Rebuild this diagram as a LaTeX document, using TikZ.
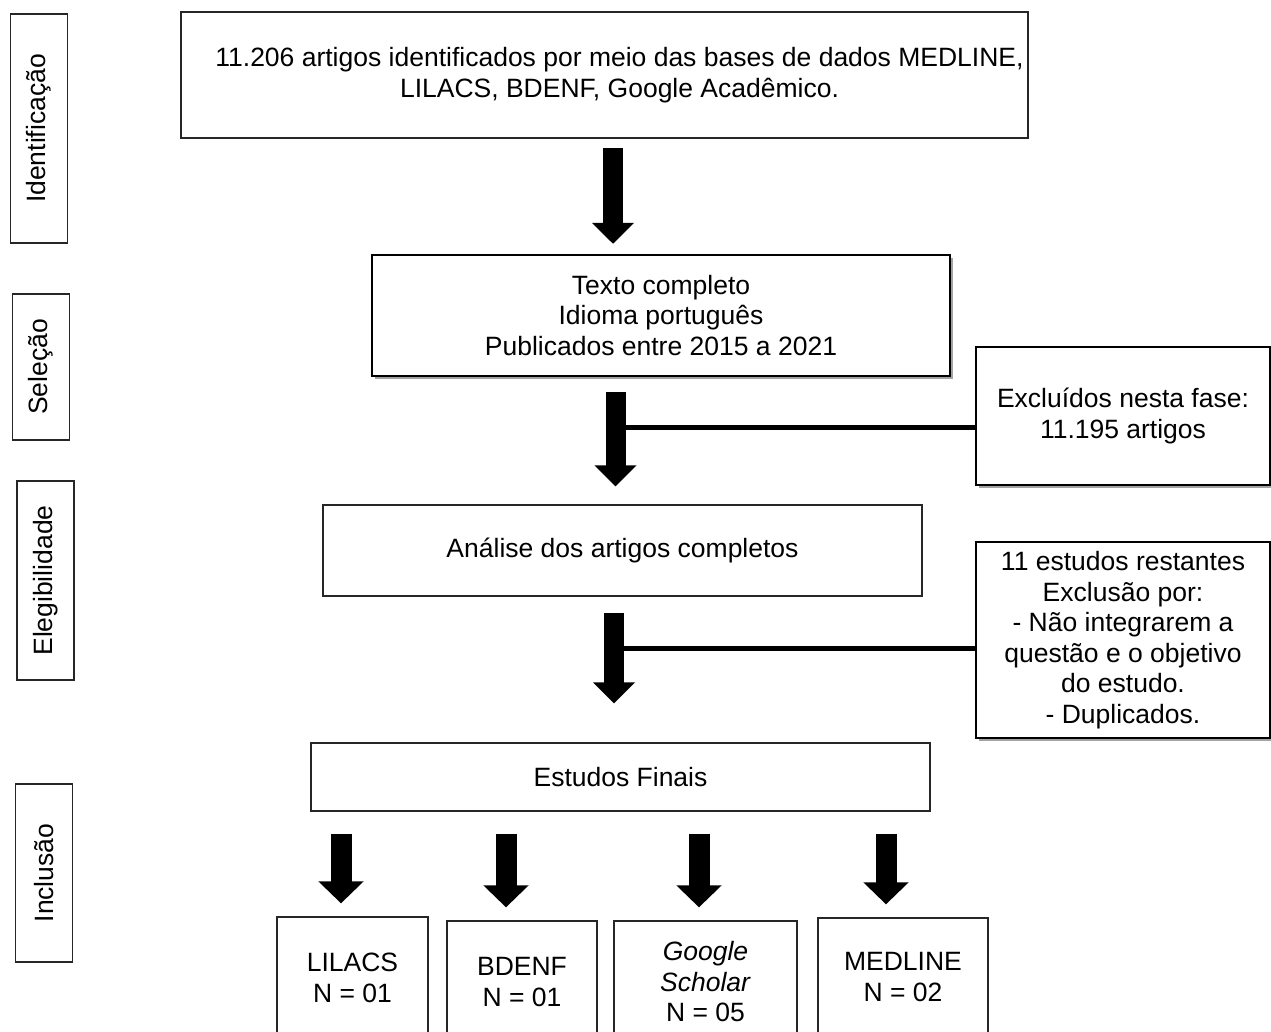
\documentclass[tikz,border=0pt]{standalone}
\usepackage{fontspec}
\setmainfont{Liberation Sans}
\usetikzlibrary{arrows.meta, positioning, shadows, calc}
\tikzset{%
	box/.style={draw=black!85, rectangle, line width=1.3pt, inner sep=0mm, align=center},
	shbox/.style={box, draw=black, line width=2.4pt, fill=white,%
		drop shadow={shadow xshift=3pt, shadow yshift=-3pt, fill=black!60, opacity=0.6}},
	phase/.style={box, rotate=90, minimum height=57pt},
	bigarrow/.style={line width=20pt, -{Triangle[width=41pt, length=21pt]}},
	smallarrow/.style={line width=21pt, -{Triangle[width=44pt, length=22pt]}},
	joinline/.style={line width=5pt}
}
\begin{document}
\begin{tikzpicture}[x=1pt, y=-1pt, font=\fontsize{26.5pt}{30.5pt}\selectfont]
	\useasboundingbox (0,0) rectangle (1271,1032);

	% phases
	\node[phase, minimum width=229pt] (pident) at (39,128.5) {Identificação};
	\node[phase, minimum width=146pt] (psel) at (41,367) {Seleção};
	\node[phase, minimum width=199pt] (pelig) at (45.5,580.5) {Elegibilidade};
	\node[phase, minimum width=178pt] (pincl) at (44,873) {Inclusão};

	% main column
	\node[box, minimum width=847pt, minimum height=126pt] (ident) at (604.5,75)
		{\hspace*{30pt}11.206 artigos identificados por meio das bases de dados MEDLINE,\\
		\hspace*{30pt}LILACS, BDENF, Google Acadêmico.};
	\node[shbox, minimum width=578pt, minimum height=121pt] (texto) at (661,315.5)
		{Texto completo\\Idioma português\\Publicados entre 2015 a 2021};
	\node[box, minimum width=599pt, minimum height=91pt] (analise) at (622.5,550.5)
		{Análise dos artigos completos};
	\node[box, minimum width=619pt, minimum height=68pt] (finais) at (620.5,777)
		{Estudos Finais};

	% exclusions
	\node[shbox, minimum width=294pt, minimum height=138pt] (excl) at (1123,416)
		{Excluídos nesta fase:\\11.195 artigos};
	\node[shbox, minimum width=294pt, minimum height=196pt] (rest) at (1123,640)
		{11 estudos restantes\\Exclusão por:\\- Não integrarem a\\questão e o objetivo\\do estudo.\\- Duplicados.};

	% databases
	\node[box, minimum width=151pt, minimum height=122pt] (lilacs) at (352.5,978) {LILACS\\N = 01};
	\node[box, minimum width=150pt, minimum height=122pt] (bdenf) at (522,982) {BDENF\\N = 01};
	\node[box, minimum width=183pt, minimum height=122pt] (google) at (705.5,982)
		{\textit{Google}\\\textit{Scholar}\\N = 05};
	\node[box, minimum width=170pt, minimum height=118pt] (medline) at (903,977) {MEDLINE\\N = 02};

	\coordinate (c1) at (613,0);
	\coordinate (c2) at (615.5,0);
	\coordinate (c3) at (614,0);
	\coordinate (j1) at (625,427);
	\coordinate (j2) at (623,648);

	\draw[bigarrow, shorten <=9pt, shorten >=10pt] (ident.south -| c1) to (texto.north -| c1);
	\draw[bigarrow, shorten <=15pt, shorten >=18pt] (texto.south -| c2) to (analise.north -| c2);
	\draw[bigarrow, shorten <=16pt, shorten >=39pt] (analise.south -| c3) to (finais.north -| c3);
	\draw[joinline] (j1) to (j1 -| excl.west);
	\draw[joinline] (j2) to (j2 -| rest.west);

	\foreach \db/\x in {lilacs/341, bdenf/506, google/699, medline/886} {
		\coordinate (b) at (\x,0);
		\draw[smallarrow, shorten <=22pt, shorten >=13pt] (finais.south -| b) to (\db.north -| b);
	}
\end{tikzpicture}
\end{document}
